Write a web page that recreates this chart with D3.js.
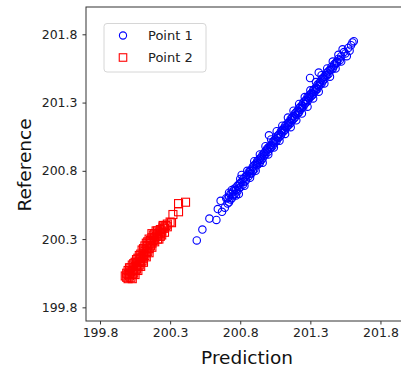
<!DOCTYPE html>
<html><head><meta charset="utf-8">
<script src="https://cdn.jsdelivr.net/npm/d3@7"></script>
<style>body{margin:0;background:#fff;}svg{display:block;font-family:"DejaVu Sans",sans-serif;}</style>
</head><body>
<svg id="c" width="401" height="369"></svg>
<script>
const tickValues = [199.8, 200.3, 200.8, 201.3, 201.8];
const tickLabels = ["199.8", "200.3", "200.8", "201.3", "201.8"];
const seriesNames = ["Point 1", "Point 2"];

const point1 = [
[200.49,200.29],[200.53,200.37],[200.58,200.45],[200.63,200.44],[200.64,200.52],[200.67,200.50],[200.66,200.58],[200.69,200.53],[200.70,200.60],
[200.71,200.56],[200.71,200.60],[200.72,200.61],[200.72,200.57],[200.73,200.59],[200.73,200.63],[200.74,200.60],[200.75,200.65],[200.75,200.62],
[200.76,200.63],[200.76,200.67],[200.77,200.66],[200.78,200.69],[200.78,200.65],[200.79,200.67],[200.79,200.70],[200.80,200.71],[200.80,200.68],
[200.81,200.72],[200.82,200.70],[200.82,200.74],[200.83,200.75],[200.83,200.72],[200.84,200.73],[200.84,200.76],[200.85,200.77],[200.86,200.79],
[200.86,200.76],[200.87,200.78],[200.87,200.80],[200.88,200.81],[200.88,200.78],[200.89,200.83],[200.89,200.80],[200.90,200.81],[200.90,200.84],
[200.91,200.85],[200.92,200.84],[200.92,200.87],[200.92,200.86],[200.93,200.88],[200.93,200.85],[200.94,200.86],[200.94,200.89],[200.95,200.90],
[200.95,200.88],[200.96,200.92],[200.96,200.89],[200.97,200.91],[200.97,200.93],[200.98,200.94],[200.98,200.92],[200.99,200.95],[200.99,200.96],
[201.00,200.94],[201.00,200.97],[201.005,201.06],[201.01,200.98],[201.01,200.96],[201.02,200.99],[201.02,200.97],[201.03,201.01],[201.03,200.98],
[201.04,201.00],[201.04,201.02],[201.05,201.03],[201.05,201.01],[201.06,201.05],[201.06,201.02],[201.07,201.04],[201.07,201.06],[201.08,201.07],
[201.08,201.05],[201.09,201.09],[201.09,201.06],[201.10,201.08],[201.10,201.10],[201.11,201.11],[201.11,201.09],[201.12,201.13],[201.12,201.10],
[201.13,201.12],[201.13,201.14],[201.14,201.15],[201.14,201.13],[201.15,201.16],[201.15,201.14],[201.16,201.18],[201.16,201.15],[201.17,201.17],
[201.17,201.19],[201.18,201.20],[201.18,201.18],[201.19,201.22],[201.19,201.19],[201.20,201.21],[201.20,201.23],[201.21,201.24],[201.21,201.22],
[201.22,201.26],[201.22,201.23],[201.23,201.25],[201.23,201.27],[201.24,201.28],[201.24,201.26],[201.25,201.30],[201.25,201.27],[201.26,201.29],
[201.26,201.31],[201.27,201.32],[201.27,201.30],[201.28,201.34],[201.28,201.31],[201.29,201.33],[201.29,201.35],[201.30,201.36],[201.30,201.34],
[201.298,201.48],[201.31,201.37],[201.31,201.35],[201.32,201.39],[201.32,201.36],[201.33,201.38],[201.33,201.40],[201.34,201.41],[201.34,201.39],
[201.35,201.43],[201.35,201.40],[201.36,201.42],[201.36,201.44],[201.36,201.52],[201.37,201.45],[201.37,201.43],[201.38,201.47],[201.38,201.44],
[201.39,201.46],[201.39,201.48],[201.40,201.49],[201.40,201.47],[201.41,201.50],[201.42,201.52],[201.42,201.50],[201.43,201.51],[201.43,201.53],
[201.44,201.54],[201.45,201.56],[201.45,201.54],[201.46,201.55],[201.47,201.58],[201.47,201.57],[201.48,201.59],[201.49,201.60],[201.49,201.59],
[201.50,201.62],[201.51,201.61],[201.52,201.64],[201.54,201.67],[201.55,201.66],[201.57,201.70],[201.59,201.72],[201.60,201.74],[201.61,201.75],
[200.74,200.66],[200.77,200.62],[200.80,200.74],[200.83,200.69],[200.85,200.80],[200.87,200.75],[200.90,200.87],[200.91,200.80],[200.94,200.92],
[200.96,200.86],[200.98,200.98],[201.00,200.92],[201.02,201.03],[201.04,200.97],[201.06,201.09],[201.08,201.02],[201.10,201.13],[201.12,201.07],
[201.14,201.19],[201.16,201.12],[201.18,201.24],[201.20,201.17],[201.22,201.29],[201.24,201.22],[201.26,201.34],[201.28,201.27],[201.30,201.39],
[201.32,201.33],[201.34,201.45],[201.36,201.38],[201.38,201.50],[201.40,201.44],[201.42,201.55],[201.44,201.49],[201.46,201.60],[201.48,201.55],
[201.50,201.65],[201.52,201.60],[201.53,201.69],[201.56,201.64],[201.58,201.68],[200.72,200.64],[200.79,200.63],[200.81,200.77]
];

const point2 = [
[199.99,200.02],[200.00,200.01],[200.00,200.04],[199.99,200.05],[200.01,200.03],[200.02,200.02],[200.01,200.05],[200.02,200.06],[200.03,200.04],
[200.03,200.07],[200.04,200.05],[200.04,200.08],[200.02,200.09],[200.05,200.07],[200.05,200.10],[200.06,200.08],[200.06,200.11],[200.04,200.12],
[200.07,200.10],[200.07,200.13],[200.08,200.11],[200.08,200.14],[200.06,200.15],[200.09,200.13],[200.09,200.16],[200.10,200.14],[200.10,200.17],
[200.08,200.18],[200.11,200.16],[200.11,200.19],[200.12,200.18],[200.12,200.21],[200.10,200.22],[200.13,200.20],[200.13,200.23],[200.14,200.21],
[200.14,200.25],[200.12,200.25],[200.15,200.23],[200.15,200.27],[200.16,200.25],[200.16,200.29],[200.14,200.28],[200.17,200.27],[200.17,200.31],
[200.18,200.29],[200.18,200.33],[200.19,200.31],[200.19,200.34],[200.20,200.32],[200.21,200.33],[200.21,200.36],[200.22,200.35],[200.22,200.30],
[200.23,200.34],[200.23,200.37],[200.24,200.36],[200.24,200.33],[200.25,200.38],[200.25,200.40],[200.26,200.38],[200.27,200.40],[200.28,200.41],
[200.28,200.39],[200.25,200.39],[200.30,200.425],[200.31,200.42],[200.32,200.48],[200.36,200.50],[200.36,200.56],[200.41,200.57],
[199.98,200.03],[200.00,200.07],[200.03,200.01],[200.01,200.09],[200.05,200.04],[200.03,200.11],[200.07,200.07],[200.05,200.13],[200.09,200.10],
[200.07,200.16],[200.11,200.13],[200.09,200.19],[200.13,200.17],[200.11,200.23],[200.15,200.20],[200.13,200.27],[200.17,200.24],[200.15,200.30],
[200.19,200.28],[200.17,200.34],[200.21,200.30],[200.20,200.36],[200.23,200.32],[200.26,200.35]
];

const mLeft = 86, mTop = 7, mBottom = 321, mRight = 408.5;
const svg = d3.select("#c");
const x = d3.scaleLinear().domain([199.7, 202.0]).range([mLeft, mRight]);
const y = d3.scaleLinear().domain([199.7, 202.0]).range([mBottom, mTop]);

svg.append("defs").append("clipPath").attr("id","clip")
  .append("rect").attr("x",mLeft).attr("y",mTop).attr("width",mRight-mLeft).attr("height",mBottom-mTop);

const g = svg.append("g").attr("clip-path","url(#clip)");
g.selectAll("circle.p1").data(point1).enter().append("circle")
  .attr("class","p1")
  .attr("cx", d => x(d[0])).attr("cy", d => y(d[1])).attr("r", 3.7)
  .attr("fill","none").attr("stroke","#0000ff").attr("stroke-width",1.1);
const s = 8;
g.selectAll("rect.p2").data(point2).enter().append("rect")
  .attr("class","p2")
  .attr("x", d => x(d[0]) - s/2).attr("y", d => y(d[1]) - s/2)
  .attr("width", s).attr("height", s)
  .attr("fill","none").attr("stroke","#ff0000").attr("stroke-width",1.1);

// frame
svg.append("rect").attr("x",mLeft).attr("y",mTop).attr("width",mRight-mLeft+5).attr("height",mBottom-mTop)
  .attr("fill","none").attr("stroke","#333").attr("stroke-width",1);

const fmt = (d) => tickLabels[tickValues.indexOf(d)];
const xa = svg.append("g").attr("transform",`translate(0,${mBottom})`)
  .call(d3.axisBottom(x).tickValues(tickValues).tickFormat(fmt).tickSize(3.5).tickPadding(4));
const ya = svg.append("g").attr("transform",`translate(${mLeft},0)`)
  .call(d3.axisLeft(y).tickValues(tickValues).tickFormat(fmt).tickSize(3.5).tickPadding(5));
[xa, ya].forEach(a => {
  a.select(".domain").remove();
  a.selectAll("line").attr("stroke","#333");
  a.selectAll("text").attr("fill","#222").style("font-size","12.5px").style("font-family","DejaVu Sans");
});

svg.append("text").attr("x", 247).attr("y", 364).attr("text-anchor","middle")
  .style("font-size","18.5px").attr("fill","#111").text("Prediction");
svg.append("text").attr("transform","translate(31,165) rotate(-90)").attr("text-anchor","middle")
  .style("font-size","18.5px").attr("fill","#111").text("Reference");

// legend
const lg = svg.append("g");
lg.append("rect").attr("x",104).attr("y",23.5).attr("width",102).attr("height",48.5).attr("rx",3)
  .attr("fill","#fff").attr("fill-opacity",0.8).attr("stroke","#d6d6d6");
lg.append("circle").attr("cx",123).attr("cy",35.5).attr("r",3.6)
  .attr("fill","none").attr("stroke","#0000ff").attr("stroke-width",1.1);
lg.append("rect").attr("x",123-7.5/2).attr("y",57.5-7.5/2).attr("width",7.5).attr("height",7.5)
  .attr("fill","none").attr("stroke","#ff0000").attr("stroke-width",1.1);
seriesNames.forEach((n,i) => {
  lg.append("text").attr("x",148).attr("y",40+i*22).style("font-size","13px").attr("fill","#222").text(n);
});
</script>
</body></html>
